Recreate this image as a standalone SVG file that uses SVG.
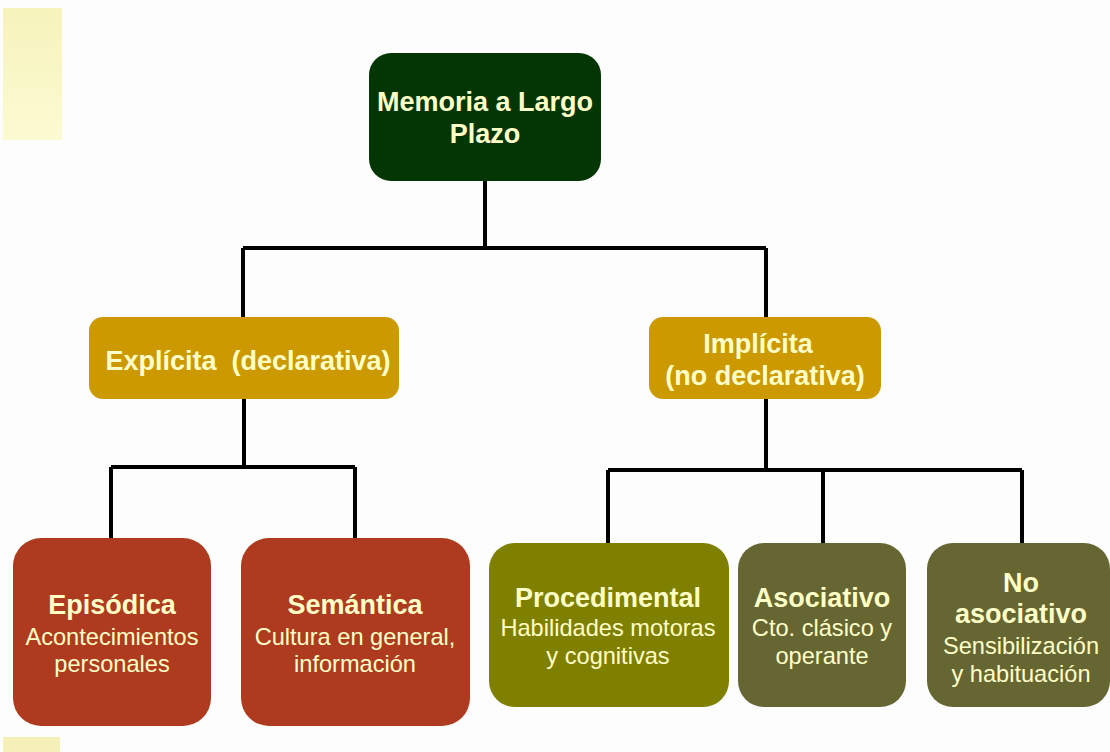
<svg xmlns="http://www.w3.org/2000/svg" width="1110" height="752" viewBox="0 0 1110 752">
<defs>
<linearGradient id="yg" x1="0" y1="0" x2="0" y2="1">
<stop offset="0" stop-color="#F7F3BC"/>
<stop offset="1" stop-color="#FCFAD2"/>
</linearGradient>
</defs>
<style>
.t{font-family:"Liberation Sans",Arial,sans-serif;fill:#FFFFC8;text-anchor:middle}
.b{font-weight:bold;font-size:27px}
.r{font-size:23.6px}
.ln{stroke:#000;stroke-width:4;fill:none}
</style>
<rect width="1110" height="752" fill="#FDFDFD"/>
<rect x="3" y="8" width="59" height="132" fill="url(#yg)"/>
<rect x="3" y="737" width="57" height="15" fill="#F4F0B8"/>
<g id="connectors">
<path class="ln" d="M485 181V248M243 248H766M243 248V317M766 248V317"/>
<path class="ln" d="M244 399V467M111 467H355M111 467V538M355 467V538"/>
<path class="ln" d="M766 399V470M608 470H1022M608 470V543M823 470V543M1022 470V543"/>
</g>
<g id="root">
<rect x="369" y="53" width="232" height="128" rx="22" fill="#033603"/>
<text class="t b" x="485" y="111">Memoria a Largo</text>
<text class="t b" x="485" y="143">Plazo</text>
</g>
<g id="explicita">
<rect x="89" y="317" width="310" height="82" rx="14" fill="#CC9900"/>
<text class="t b" x="248" y="370" xml:space="preserve">Explícita  (declarativa)</text>
</g>
<g id="implicita">
<rect x="649" y="317" width="232" height="82" rx="14" fill="#CC9900"/>
<text class="t b" x="758" y="353">Implícita</text>
<text class="t b" x="765" y="385">(no declarativa)</text>
</g>
<g id="episodica">
<rect x="13" y="538" width="198" height="188" rx="28" fill="#AE3B1F"/>
<text class="t b" x="112" y="614">Episódica</text>
<text class="t r" x="112" y="645">Acontecimientos</text>
<text class="t r" x="112" y="672">personales</text>
</g>
<g id="semantica">
<rect x="241" y="538" width="229" height="188" rx="28" fill="#AE3B1F"/>
<text class="t b" x="355" y="614">Semántica</text>
<text class="t r" x="355" y="645">Cultura en general,</text>
<text class="t r" x="355" y="672">información</text>
</g>
<g id="procedimental">
<rect x="489" y="543" width="240" height="164" rx="26" fill="#808000"/>
<text class="t b" x="608" y="607">Procedimental</text>
<text class="t r" x="608" y="636">Habilidades motoras</text>
<text class="t r" x="608" y="664">y cognitivas</text>
</g>
<g id="asociativo">
<rect x="738" y="543" width="168" height="164" rx="26" fill="#666633"/>
<text class="t b" x="822" y="607">Asociativo</text>
<text class="t r" x="822" y="636">Cto. clásico y</text>
<text class="t r" x="822" y="664">operante</text>
</g>
<g id="noasociativo">
<rect x="927" y="543" width="183" height="164" rx="26" fill="#666633"/>
<text class="t b" x="1021" y="592">No</text>
<text class="t b" x="1021" y="623">asociativo</text>
<text class="t r" x="1021" y="654">Sensibilización</text>
<text class="t r" x="1021" y="682">y habituación</text>
</g>
</svg>
